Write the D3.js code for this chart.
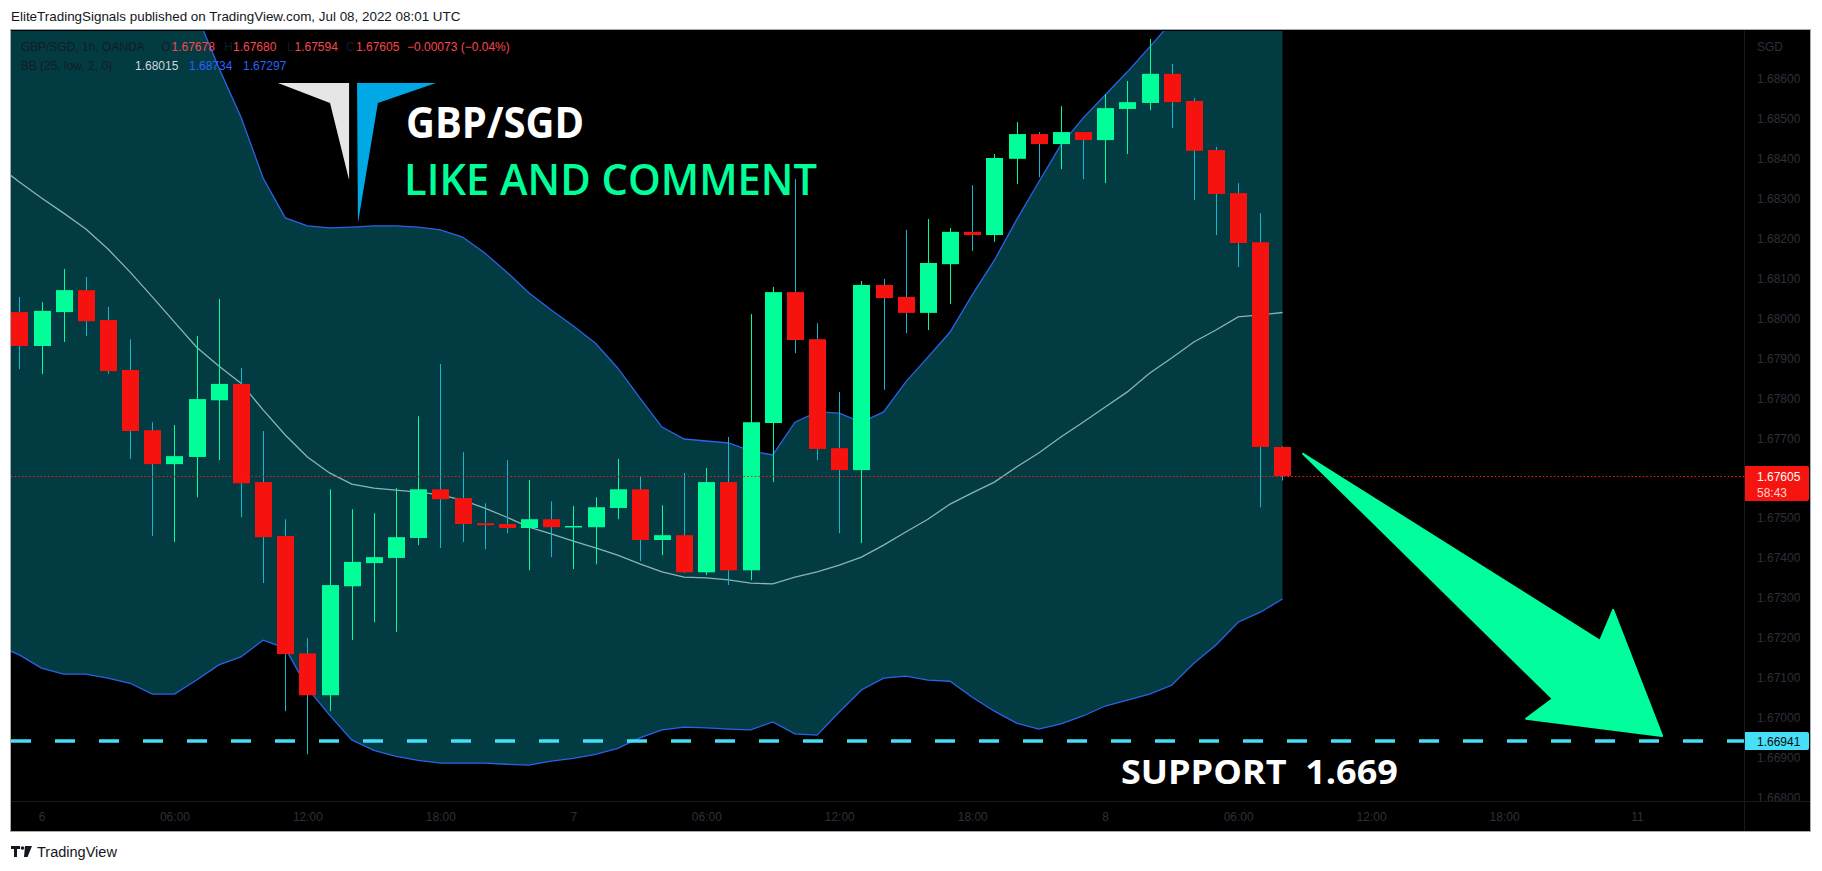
<!DOCTYPE html>
<html><head><meta charset="utf-8">
<script src="https://cdn.jsdelivr.net/npm/d3@7/dist/d3.min.js"></script>
<style>
html,body{margin:0;padding:0;background:#fff;}
svg{display:block;}
</style></head><body>
<svg id="c" width="1822" height="871"></svg>
<script>
// ---------- DATA ----------
// hour index from Jul 6 00:00 UTC (1h candles, GBP/SGD OANDA)
const candleHours = [-1,0,1,2,3,4,5,6,7,8,9,10,11,12,13,14,15,16,17,18,19,20,21,22,23,24,25,26,27,28,29,30,31,32,33,34,35,36,37,38,39,40,41,42,43,44,45,46,47,48,49,50,51,52,53,54,55,56];
const opens  = [1.68016,1.67931,1.68016,1.68071,1.67996,1.67871,1.67720,1.67635,1.67653,1.67795,1.67836,1.67590,1.67455,1.67161,1.67056,1.67329,1.67387,1.67400,1.67450,1.67572,1.67550,1.67487,1.67485,1.67475,1.67497,1.67477,1.67477,1.67525,1.67572,1.67445,1.67457,1.67364,1.67590,1.67369,1.67738,1.68066,1.67948,1.67675,1.67620,1.68084,1.68054,1.68014,1.68136,1.68217,1.68209,1.68400,1.68462,1.68437,1.68467,1.68447,1.68525,1.68540,1.68613,1.68545,1.68422,1.68314,1.68191,1.67678];
const highs  = [1.68054,1.68041,1.68124,1.68104,1.68029,1.67948,1.67740,1.67733,1.67956,1.68049,1.67876,1.67718,1.67497,1.67199,1.67572,1.67522,1.67512,1.67575,1.67755,1.67886,1.67665,1.67537,1.67645,1.67595,1.67542,1.67530,1.67552,1.67648,1.67605,1.67532,1.67613,1.67625,1.67703,1.68011,1.68079,1.68349,1.67988,1.67816,1.68094,1.68099,1.68222,1.68249,1.68227,1.68334,1.68412,1.68492,1.68467,1.68532,1.68467,1.68562,1.68595,1.68700,1.68638,1.68552,1.68430,1.68339,1.68264,1.67680];
const lows   = [1.67873,1.67861,1.67941,1.67956,1.67861,1.67648,1.67455,1.67440,1.67552,1.67645,1.67502,1.67337,1.67016,1.66908,1.67016,1.67194,1.67239,1.67214,1.67432,1.67425,1.67440,1.67422,1.67462,1.67369,1.67402,1.67372,1.67384,1.67497,1.67392,1.67407,1.67362,1.67357,1.67332,1.67344,1.67590,1.67913,1.67645,1.67462,1.67437,1.67821,1.67963,1.67971,1.68036,1.68169,1.68192,1.68337,1.68354,1.68374,1.68349,1.68339,1.68412,1.68522,1.68477,1.68297,1.68209,1.68129,1.67527,1.67594];
const closes = [1.67931,1.68019,1.68071,1.67993,1.67868,1.67718,1.67635,1.67655,1.67798,1.67836,1.67587,1.67452,1.67159,1.67056,1.67332,1.67390,1.67402,1.67452,1.67572,1.67547,1.67485,1.67482,1.67475,1.67497,1.67477,1.67480,1.67527,1.67572,1.67445,1.67457,1.67364,1.67590,1.67369,1.67740,1.68066,1.67946,1.67673,1.67620,1.68084,1.68051,1.68014,1.68139,1.68217,1.68209,1.68402,1.68462,1.68437,1.68467,1.68447,1.68527,1.68542,1.68613,1.68542,1.68420,1.68312,1.68189,1.67678,1.67605];

// Bollinger Bands (25, low, 2, 0)
const bandHours = [-2,-1,0,1,2,3,4,5,6,7,8,9,10,11,12,13,14,15,16,17,18,19,20,21,22,23,24,25,26,27,28,29,30,31,32,33,34,35,36,37,38,39,40,41,42,43,44,45,46,47,48,49,50,51,52,53,54,55,56];
const bbUpper = [1.69587,1.69527,1.69480,1.69420,1.69339,1.69249,1.69146,1.69049,1.68923,1.68763,1.68628,1.68505,1.68352,1.68252,1.68232,1.68227,1.68229,1.68232,1.68232,1.68229,1.68222,1.68204,1.68164,1.68116,1.68064,1.68021,1.67981,1.67938,1.67876,1.67801,1.67728,1.67698,1.67693,1.67688,1.67668,1.67658,1.67740,1.67766,1.67763,1.67740,1.67766,1.67841,1.67903,1.67966,1.68059,1.68146,1.68247,1.68342,1.68435,1.68502,1.68560,1.68618,1.68680,1.68743,1.68748,1.68760,1.68768,1.68753,1.68734];
const bbBasis = [1.68384,1.68342,1.68302,1.68264,1.68224,1.68174,1.68116,1.68054,1.67991,1.67928,1.67881,1.67838,1.67771,1.67708,1.67653,1.67613,1.67585,1.67575,1.67570,1.67565,1.67558,1.67545,1.67525,1.67502,1.67477,1.67460,1.67442,1.67425,1.67407,1.67385,1.67365,1.67352,1.67350,1.67345,1.67337,1.67335,1.67352,1.67365,1.67382,1.67402,1.67432,1.67465,1.67497,1.67535,1.67563,1.67590,1.67628,1.67663,1.67703,1.67740,1.67778,1.67816,1.67863,1.67901,1.67941,1.67971,1.68004,1.68009,1.68015];
const bbLower = [1.67182,1.67157,1.67124,1.67109,1.67109,1.67099,1.67086,1.67059,1.67059,1.67094,1.67132,1.67152,1.67194,1.67174,1.67074,1.67006,1.66944,1.66918,1.66903,1.66893,1.66886,1.66886,1.66886,1.66883,1.66881,1.66891,1.66898,1.66908,1.66923,1.66949,1.66969,1.66976,1.66974,1.66971,1.66969,1.66989,1.66959,1.66956,1.67014,1.67069,1.67099,1.67104,1.67094,1.67091,1.67051,1.67016,1.66986,1.66971,1.66984,1.67004,1.67029,1.67044,1.67059,1.67081,1.67136,1.67182,1.67239,1.67264,1.67297];

const timeTickHours  = [0,6,12,18,24,30,36,42,48,54,60,66,72];
const timeTickLabels = ["6","06:00","12:00","18:00","7","06:00","12:00","18:00","8","06:00","12:00","18:00","11"];
const priceTicks = [1.668,1.669,1.670,1.671,1.672,1.673,1.674,1.675,1.676,1.677,1.678,1.679,1.680,1.681,1.682,1.683,1.684,1.685,1.686];

const lastPrice = 1.67605;
const supportPrice = 1.66941;
const countdown = "58:43";
const legendOHLC = ["1.67678","1.67680","1.67594","1.67605"];
const legendChange = "\u22120.00073 (\u22120.04%)";
const legendBB = ["1.68015","1.68734","1.67297"];

// drawings anchored to (hour, price)
const arrowPts = [[56.93,1.67661],[70.33,1.67192],[70.92,1.67270],[73.13,1.66954],[66.99,1.66997],[68.20,1.67047]];
const logoWhite = [[10.67,1.68590],[13.88,1.68590],[13.88,1.68347],[13.02,1.68540]];
const logoBlue  = [[14.24,1.68590],[17.80,1.68590],[15.18,1.68540],[14.28,1.68239]];

// ---------- LAYOUT ----------
const svg = d3.select("#c");
const W = 1822, H = 871;
const frame = {l:11, t:30, r:1810, b:831};
const pane = {l:11, t:31, r:1744, b:801};

const x = d3.scaleLinear().domain([0,48]).range([41.5,1105.2]);
const y = d3.scaleLinear().domain([1.668,1.686]).range([797.4,79]);

svg.append("rect").attr("width",W).attr("height",H).attr("fill","#ffffff");

// header
const hdr = svg.append("text").attr("x",11).attr("y",21)
  .attr("font-family","Liberation Sans, Arial, sans-serif").attr("font-size",14)
  .attr("fill","#131722").text("EliteTradingSignals published on TradingView.com, Jul 08, 2022 08:01 UTC");
{ const w = hdr.node().getComputedTextLength(); hdr.attr("font-size", 14*450/w); }

// frame
svg.append("rect").attr("x",frame.l-0.5).attr("y",frame.t-0.5)
  .attr("width",frame.r-frame.l+1).attr("height",frame.b-frame.t+1)
  .attr("fill","#000").attr("stroke","#a7aab2").attr("stroke-width",1);

const defs = svg.append("defs");
defs.append("clipPath").attr("id","paneClip").append("rect")
  .attr("x",pane.l).attr("y",pane.t).attr("width",pane.r-pane.l).attr("height",pane.b-pane.t);
defs.append("clipPath").attr("id","axisClip").append("rect")
  .attr("x",pane.r).attr("y",pane.t).attr("width",frame.r-pane.r).attr("height",pane.b-pane.t);

const g = svg.append("g").attr("clip-path","url(#paneClip)");

// BB fill
const bands = bandHours.map((h,i)=>({h, u:bbUpper[i], m:bbBasis[i], l:bbLower[i]}));
g.append("path").datum(bands)
  .attr("d", d3.area().x(d=>x(d.h)).y0(d=>y(d.l)).y1(d=>y(d.u)))
  .attr("fill","#023b42");
g.append("path").datum(bands)
  .attr("d", d3.line().x(d=>x(d.h)).y(d=>y(d.u)))
  .attr("fill","none").attr("stroke","#2b63e6").attr("stroke-width",1.3);
g.append("path").datum(bands)
  .attr("d", d3.line().x(d=>x(d.h)).y(d=>y(d.l)))
  .attr("fill","none").attr("stroke","#2b63e6").attr("stroke-width",1.3);
g.append("path").datum(bands)
  .attr("d", d3.line().x(d=>x(d.h)).y(d=>y(d.m)))
  .attr("fill","none").attr("stroke","#8db3b6").attr("stroke-width",1.3);

// support dashed line
g.append("line").attr("x1",pane.l).attr("x2",pane.r)
  .attr("y1",Math.round(y(supportPrice))).attr("y2",Math.round(y(supportPrice)))
  .attr("stroke","#45dff7").attr("stroke-width",3.3).attr("stroke-dasharray","20,24");

// candles
const candles = candleHours.map((h,i)=>({h,o:opens[i],hi:highs[i],lo:lows[i],c:closes[i]}));
const UP="#00ff99", DN="#f5120f", WUP="#00ff99", WDN="#12b8cf";
const cg = g.append("g");
cg.selectAll("line.w").data(candles).join("line")
  .attr("x1",d=>Math.round(x(d.h))+0.5).attr("x2",d=>Math.round(x(d.h))+0.5)
  .attr("y1",d=>y(d.hi)).attr("y2",d=>y(d.lo))
  .attr("stroke",d=>d.c>=d.o?WUP:WDN).attr("stroke-width",1);
cg.selectAll("rect.b").data(candles).join("rect")
  .attr("x",d=>Math.round(x(d.h))-8).attr("width",17)
  .attr("y",d=>Math.min(y(d.o),y(d.c)))
  .attr("height",d=>Math.max(1.5,Math.abs(y(d.o)-y(d.c))))
  .attr("fill",d=>d.c>=d.o?UP:DN);

// current price dotted line
g.append("line").attr("x1",pane.l).attr("x2",pane.r)
  .attr("y1",Math.round(y(lastPrice))+0.5).attr("y2",Math.round(y(lastPrice))+0.5)
  .attr("stroke","#ff1a1a").attr("stroke-width",1).attr("stroke-dasharray","1.5,2.2");

// arrow drawing
g.append("path").datum(arrowPts)
  .attr("d", d3.line().x(d=>x(d[0])).y(d=>y(d[1])).curve(d3.curveLinearClosed))
  .attr("fill","#00ff9c").attr("stroke","#00ff9c").attr("stroke-width",2).attr("stroke-linejoin","round");

// logo
g.append("path").datum(logoWhite)
  .attr("d", d3.line().x(d=>x(d[0])).y(d=>y(d[1])).curve(d3.curveLinearClosed)).attr("fill","#e6e6e6");
g.append("path").datum(logoBlue)
  .attr("d", d3.line().x(d=>x(d[0])).y(d=>y(d[1])).curve(d3.curveLinearClosed)).attr("fill","#00a9e6");

// big texts
function fitText(sel, target){ sel.attr("textLength",target).attr("lengthAdjust","spacingAndGlyphs"); }
const t1 = g.append("text").attr("x",x(16.45)).attr("y",y(1.68452))
  .attr("font-family","Open Sans, sans-serif").attr("font-weight",700).attr("font-size",43)
  .attr("fill","#ffffff").text("GBP/SGD");
fitText(t1,178);
const t2 = g.append("text").attr("x",x(16.36)).attr("y",y(1.68309))
  .attr("font-family","Open Sans, sans-serif").attr("font-weight",600).attr("font-size",43)
  .attr("fill","#00ff99").text("LIKE AND COMMENT");
fitText(t2,413);
const t3 = g.append("text").attr("x",x(48.71)).attr("y",y(1.66834))
  .attr("font-family","Open Sans, sans-serif").attr("font-weight",700).attr("font-size",34)
  .attr("fill","#ffffff").attr("xml:space","preserve").style("white-space","pre").text("SUPPORT  1.669");
fitText(t3,277);

// legend
const lf = "Liberation Sans, Arial, sans-serif";
function seg(xp, yp, txt, col){
  svg.append("text").attr("x",xp).attr("y",yp).attr("font-family",lf).attr("font-size",12)
    .attr("fill",col).text(txt);
}
const DIM="#141c26", RED="#f7464f", BLU="#2962ff";
seg(20.7,51,"GBP/SGD, 1h, OANDA",DIM);
seg(161,51,"O",DIM); seg(171.5,51,legendOHLC[0],RED);
seg(224,51,"H",DIM); seg(233,51,legendOHLC[1],RED);
seg(287,51,"L",DIM); seg(294.5,51,legendOHLC[2],RED);
seg(346,51,"C",DIM); seg(356,51,legendOHLC[3],RED);
seg(407,51,legendChange,RED);
seg(20.7,70,"BB (25, low, 2, 0)",DIM);
seg(135,70,legendBB[0],"#d1d4dc");
seg(189,70,legendBB[1],BLU);
seg(243,70,legendBB[2],BLU);

// axes separators
svg.append("line").attr("x1",pane.r+0.5).attr("x2",pane.r+0.5).attr("y1",frame.t).attr("y2",frame.b)
  .attr("stroke","#1a1a1c");
svg.append("line").attr("x1",frame.l).attr("x2",frame.r).attr("y1",pane.b+0.5).attr("y2",pane.b+0.5)
  .attr("stroke","#1a1a1c");

// price axis
const ya = svg.append("g").attr("clip-path","url(#axisClip)").append("g")
  .attr("transform",`translate(${pane.r},0)`)
  .call(d3.axisRight(y).tickValues(priceTicks).tickFormat(d3.format(".5f")).tickSize(0).tickPadding(13));
ya.select(".domain").remove();
ya.selectAll("text").attr("font-family",lf).attr("font-size",12).attr("fill","#2c3039").attr("text-anchor","start");
svg.append("text").attr("x",1757).attr("y",51).attr("font-family",lf).attr("font-size",12)
  .attr("fill","#2c3039").text("SGD");

// time axis
const xa = svg.append("g").attr("transform",`translate(0,${pane.b})`)
  .call(d3.axisBottom(x).tickValues(timeTickHours).tickFormat((d,i)=>timeTickLabels[i]).tickSize(0).tickPadding(11));
xa.select(".domain").remove();
xa.selectAll("text").attr("font-family",lf).attr("font-size",12).attr("fill","#2c3039");

// price label boxes
const yl = Math.round(y(lastPrice));
svg.append("path").attr("d",`M${pane.r+1},${yl-10} h62 a2,2 0 0 1 2,2 v31 a2,2 0 0 1 -2,2 h-62 z`).attr("fill","#f5140f");
svg.append("text").attr("x",1757).attr("y",yl+5).attr("font-family",lf).attr("font-size",12).attr("fill","#ffffff").text(d3.format(".5f")(lastPrice));
svg.append("text").attr("x",1757).attr("y",yl+21).attr("font-family",lf).attr("font-size",12).attr("fill","#ffd2d2").text(countdown);
const ys = Math.round(y(supportPrice));
svg.append("path").attr("d",`M${pane.r+1},${ys-9} h62 a2,2 0 0 1 2,2 v14 a2,2 0 0 1 -2,2 h-62 z`).attr("fill","#45dff7");
svg.append("text").attr("x",1757).attr("y",ys+4.5).attr("font-family",lf).attr("font-size",12).attr("fill","#0a0a0a").text(d3.format(".5f")(supportPrice));

// footer
const ft = svg.append("g").attr("fill","#131722");
ft.append("path").attr("d","M11,846 h9 v3 h-3 v8 h-3 v-8 h-3 z");
ft.append("circle").attr("cx",22.5).attr("cy",848).attr("r",1.8);
ft.append("path").attr("d","M25,846 h7 l-4.5,11 h-3.5 z");
const tv = ft.append("text").attr("x",37).attr("y",857).attr("font-family",lf).attr("font-size",13).text("TradingView");
{ const w = tv.node().getComputedTextLength(); tv.attr("font-size",13*80/w); }
</script>
</body></html>
